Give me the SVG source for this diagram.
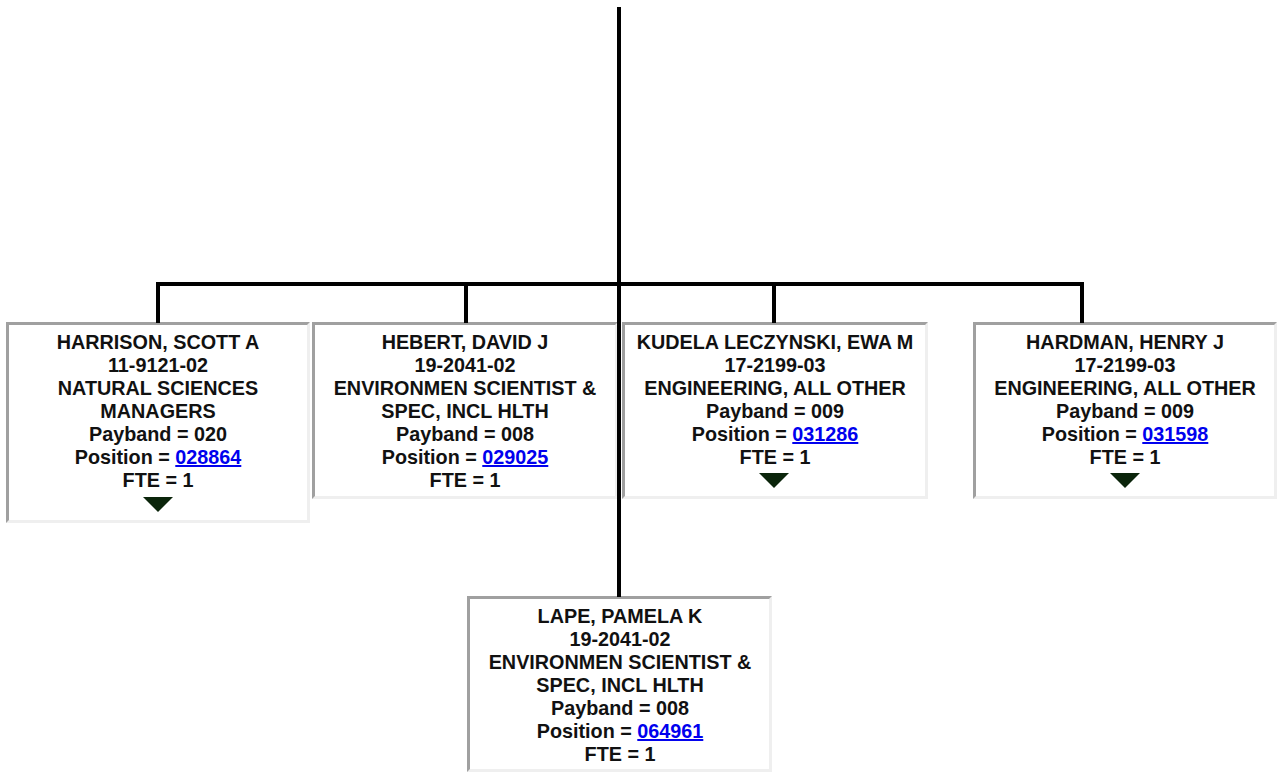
<svg xmlns="http://www.w3.org/2000/svg" width="1277" height="772" viewBox="0 0 1277 772">
<style>
.box{fill:#ffffff}
.dk{fill:#a0a0a0}
.lt{fill:#efefef}
.t{font-family:"Liberation Sans",Arial,Helvetica,sans-serif;font-weight:bold;font-size:19.8px;fill:#111111;text-anchor:middle}
.lnk{fill:#0000ee;text-decoration:underline}
.tri{fill:#0b250b}
.ln{fill:#000000}
</style>
<rect width="1277" height="772" fill="#ffffff"/>
<g id="node-harrison">
<rect class="box" x="6" y="322" width="304" height="201"/>
<polygon class="lt" points="310,322 310,523 6,523 9,520 307,520 307,325"/>
<polygon class="dk" points="6,322 310,322 307,325 9,325 9,520 6,523"/>
<text class="t" x="158" y="349">HARRISON, SCOTT A</text>
<text class="t" x="158" y="372">11-9121-02</text>
<text class="t" x="158" y="395">NATURAL SCIENCES</text>
<text class="t" x="158" y="418">MANAGERS</text>
<text class="t" x="158" y="441">Payband = 020</text>
<text class="t" x="158" y="464">Position = <tspan class="lnk">028864</tspan></text>
<text class="t" x="158" y="487">FTE = 1</text>
<polygon class="tri" points="143,497 173,497 158,512"/>
</g>
<g id="node-hebert">
<rect class="box" x="312" y="322" width="306" height="177"/>
<polygon class="lt" points="618,322 618,499 312,499 315,496 615,496 615,325"/>
<polygon class="dk" points="312,322 618,322 615,325 315,325 315,496 312,499"/>
<text class="t" x="465" y="349">HEBERT, DAVID J</text>
<text class="t" x="465" y="372">19-2041-02</text>
<text class="t" x="465" y="395">ENVIRONMEN SCIENTIST &amp;</text>
<text class="t" x="465" y="418">SPEC, INCL HLTH</text>
<text class="t" x="465" y="441">Payband = 008</text>
<text class="t" x="465" y="464">Position = <tspan class="lnk">029025</tspan></text>
<text class="t" x="465" y="487">FTE = 1</text>
</g>
<g id="node-kudela">
<rect class="box" x="622" y="322" width="306" height="177"/>
<polygon class="lt" points="928,322 928,499 622,499 625,496 925,496 925,325"/>
<polygon class="dk" points="622,322 928,322 925,325 625,325 625,496 622,499"/>
<text class="t" x="775" y="349">KUDELA LECZYNSKI, EWA M</text>
<text class="t" x="775" y="372">17-2199-03</text>
<text class="t" x="775" y="395">ENGINEERING, ALL OTHER</text>
<text class="t" x="775" y="418">Payband = 009</text>
<text class="t" x="775" y="441">Position = <tspan class="lnk">031286</tspan></text>
<text class="t" x="775" y="464">FTE = 1</text>
<polygon class="tri" points="759,473 789,473 774,488"/>
</g>
<g id="node-hardman">
<rect class="box" x="973" y="322" width="304" height="177"/>
<polygon class="lt" points="1277,322 1277,499 973,499 976,496 1274,496 1274,325"/>
<polygon class="dk" points="973,322 1277,322 1274,325 976,325 976,496 973,499"/>
<text class="t" x="1125" y="349">HARDMAN, HENRY J</text>
<text class="t" x="1125" y="372">17-2199-03</text>
<text class="t" x="1125" y="395">ENGINEERING, ALL OTHER</text>
<text class="t" x="1125" y="418">Payband = 009</text>
<text class="t" x="1125" y="441">Position = <tspan class="lnk">031598</tspan></text>
<text class="t" x="1125" y="464">FTE = 1</text>
<polygon class="tri" points="1110,473 1140,473 1125,488"/>
</g>
<g id="node-lape">
<rect class="box" x="467" y="596" width="305" height="176"/>
<polygon class="lt" points="772,596 772,772 467,772 470,769 769,769 769,599"/>
<polygon class="dk" points="467,596 772,596 769,599 470,599 470,769 467,772"/>
<text class="t" x="620" y="623">LAPE, PAMELA K</text>
<text class="t" x="620" y="646">19-2041-02</text>
<text class="t" x="620" y="669">ENVIRONMEN SCIENTIST &amp;</text>
<text class="t" x="620" y="692">SPEC, INCL HLTH</text>
<text class="t" x="620" y="715">Payband = 008</text>
<text class="t" x="620" y="738">Position = <tspan class="lnk">064961</tspan></text>
<text class="t" x="620" y="761">FTE = 1</text>
</g>
<g id="connectors">
<rect class="ln" x="617" y="7" width="4" height="590"/>
<rect class="ln" x="156" y="282" width="928" height="4"/>
<rect class="ln" x="156" y="282" width="4" height="41"/>
<rect class="ln" x="464" y="282" width="4" height="41"/>
<rect class="ln" x="772" y="282" width="4" height="41"/>
<rect class="ln" x="1080" y="282" width="4" height="41"/>
</g>
</svg>
